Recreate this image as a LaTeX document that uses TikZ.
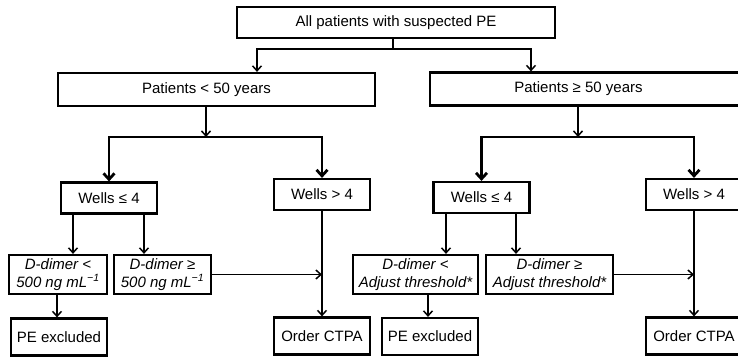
\documentclass[tikz,border=0pt]{standalone}
\usepackage{fontspec}
\setmainfont{Liberation Sans}
\usepackage{tikz}
\usetikzlibrary{arrows.meta}
\tikzset{
    flow-box/.style = {draw=black, fill=white, line width=2.2pt, rectangle, inner sep=0pt, align=center, font=\fontsize{15}{17.5}\selectfont},
    wells-box/.style = {flow-box, minimum width=96pt, minimum height=31pt},
    dimer-box/.style = {flow-box, minimum height=39pt, font=\fontsize{15}{17.5}\selectfont\itshape},
    end-box/.style = {flow-box, minimum width=96pt, minimum height=37pt},
    thin-arrow/.style = {line width=1.5pt, -{Straight Barb[length=5pt, width=9pt, line width=1.5pt]}},
    thick-arrow/.style = {line width=2.8pt, -{Straight Barb[length=6pt, width=11pt, line width=2.8pt]}},
}

\begin{document}
\begin{tikzpicture}[x=1pt, y=-1pt]
\useasboundingbox (0,0) rectangle (738,357);
\clip (0,0) rectangle (738,357);
\fill[white] (0,0) rectangle (738,357);

% first level
\node[flow-box, minimum width=318pt, minimum height=31pt] (all) at (396,22.5) {All patients with suspected PE};
\node[flow-box, minimum width=317pt, minimum height=33pt] (young) at (216.5,89.5) {Patients < 50 years\hspace*{20pt}};
\node[flow-box, minimum width=317pt, minimum height=33pt] (old) at (588.5,89) {Patients ≥ 50 years\hspace*{20pt}};

% wells score
\node[wells-box] (young-low) at (109,198) {Wells ≤ 4};
\node[wells-box] (young-high) at (322,194.5) {Wells > 4};
\node[wells-box] (old-low) at (481.5,197.5) {Wells ≤ 4};
\node[wells-box] (old-high) at (694,194.5) {Wells > 4};

% d-dimer
\node[dimer-box, minimum width=98pt] (young-neg) at (58,274.5) {D-dimer <\\500 ng mL\textsuperscript{−1}};
\node[dimer-box, minimum width=97pt] (young-pos) at (162.5,274.5) {D-dimer ≥\\500 ng mL\textsuperscript{−1}};
\node[dimer-box, minimum width=125pt] (old-neg) at (415.5,274.5) {D-dimer <\\Adjust threshold*};
\node[dimer-box, minimum width=127pt] (old-pos) at (549.5,274.5) {D-dimer ≥\\Adjust threshold*};

% outcome
\node[end-box] (young-out) at (59,337) {PE excluded};
\node[end-box] (young-ctpa) at (322,336) {Order CTPA};
\node[end-box] (old-out) at (430,336.5) {PE excluded};
\node[end-box] (old-ctpa) at (694,336) {Order CTPA};

% split points
\coordinate (top-split) at (393,49);
\coordinate (young-split) at (206,137);
\coordinate (old-split) at (578,137);

\draw[line width=1.5pt] (all.south -| top-split) -- (top-split);
\draw[thin-arrow] (top-split) -| ([xshift=40.5pt]young.north);
\draw[thin-arrow] (top-split) -| ([xshift=-57.5pt]old.north);

\draw[thin-arrow] ([xshift=-10.5pt]young.south) -- (young-split);
\draw[thick-arrow] (young-split) -| (young-low.north);
\draw[thick-arrow] (young-split) -| (young-high.north);
\draw[thin-arrow] ([xshift=-10.5pt]old.south) -- (old-split);
\draw[thick-arrow] (old-split) -| (old-low.north);
\draw[thick-arrow] (old-split) -| (old-high.north);

\draw[thin-arrow] ([xshift=-36pt]young-low.south) -- ([xshift=15pt]young-neg.north);
\draw[thin-arrow] ([xshift=35pt]young-low.south) -- ([xshift=-18.5pt]young-pos.north);
\draw[thin-arrow] ([xshift=-1pt]young-neg.south) -- ([xshift=-2pt]young-out.north);
\draw[thin-arrow] (young-pos.east) -- (young-pos.east -| young-high.south);
\draw[thin-arrow] (young-high) -- (young-ctpa);

\draw[thin-arrow] ([xshift=-35.5pt]old-low.south) -- ([xshift=30.5pt]old-neg.north);
\draw[thin-arrow] ([xshift=34.5pt]old-low.south) -- ([xshift=-33.5pt]old-pos.north);
\draw[thin-arrow] ([xshift=12.5pt]old-neg.south) -- ([xshift=-2pt]old-out.north);
\draw[thin-arrow] (old-pos.east) -- (old-pos.east -| old-high.south);
\draw[thin-arrow] (old-high) -- (old-ctpa);
\end{tikzpicture}
\end{document}
